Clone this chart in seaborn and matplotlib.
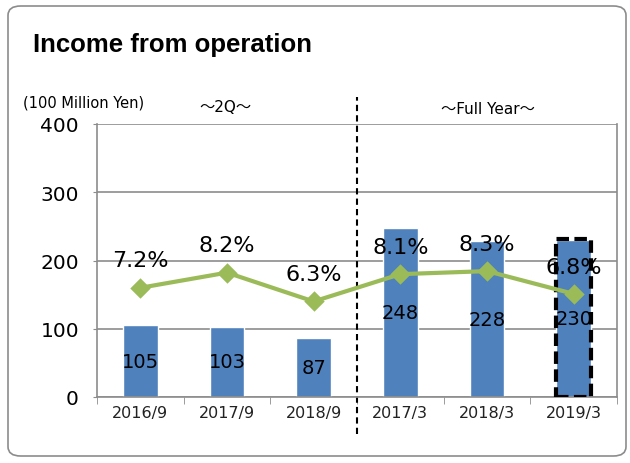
import seaborn as sns
import matplotlib.pyplot as plt
import pandas as pd
from matplotlib.patches import FancyBboxPatch, Rectangle

# chart data
periods = ['2016/9', '2017/9', '2018/9', '2017/3', '2018/3', '2019/3']
income = [105, 103, 87, 248, 228, 230]
margin = [7.2, 8.2, 6.3, 8.1, 8.3, 6.8]

df = pd.DataFrame({'Period': periods, 'Income': income, 'Margin': margin})

sns.set_style('white')
plt.rcParams['font.family'] = ['DejaVu Sans', 'Noto Sans CJK JP']
plt.rcParams['text.color'] = 'black'
plt.rcParams['ytick.color'] = 'black'

fig = plt.figure(figsize=(6.3, 4.64), dpi=100)

# rounded frame round the whole chart
frame = FancyBboxPatch((8 / 630, 7 / 464), 618 / 630, 450 / 464,
                       boxstyle='round,pad=0,rounding_size=0.02',
                       transform=fig.transFigure, fill=False,
                       edgecolor='#8c8c8c', linewidth=1.2)
fig.patches.append(frame)

fig.text(33 / 630, 1 - 45 / 464, 'Income from operation', fontsize=18.5,
         fontweight='bold', va='center', ha='left', family='Liberation Sans')

ax = fig.add_axes([97 / 630, 66 / 464, 520 / 630, 273 / 464])
sns.barplot(data=df, x='Period', y='Income', color='#4F81BD', width=0.4,
            saturation=1, ax=ax)
ax.set_ylim(0, 400)
ax.set_xlim(-0.5, 5.5)
ax.set_yticks([0, 100, 200, 300, 400])
ax.yaxis.grid(True, color='#8c8c8c', linewidth=1.2)
ax.set_axisbelow(True)
for s in ['left', 'bottom', 'right']:
    ax.spines[s].set_color('#8c8c8c')
    ax.spines[s].set_linewidth(1.2)
ax.spines['top'].set_visible(False)
ax.set_xlabel('')
ax.set_ylabel('')
ax.tick_params(axis='y', labelsize=14.5, length=3, color='#8c8c8c', pad=10,
               left=True, labelcolor='black')
ax.tick_params(axis='x', labelsize=11.5, length=0, pad=6, labelcolor='#222222')
# tick marks between categories
ax.set_xticks([i - 0.5 for i in range(7)], minor=True)
ax.tick_params(axis='x', which='minor', length=5, color='#8c8c8c',
               direction='out', bottom=True)

for i, v in enumerate(income):
    ax.text(i, v / 2, str(v), ha='center', va='center', fontsize=14)

# margin line on a hidden second axis
ax2 = ax.twinx()
sns.pointplot(data=df, x='Period', y='Margin', color='#9BBB59', markers='D',
              markersize=8, linewidth=3, ax=ax2)
ax2.set_ylim(0, 18)
ax2.set_xlim(-0.5, 5.5)
ax2.set_ylabel('')
ax2.set_yticks([])
for s in ax2.spines.values():
    s.set_visible(False)
for i, m in enumerate(margin):
    ax2.text(i, m + 1.8, f'{m}%', ha='center', va='center', fontsize=16)

# divider between 2Q and full year
ax.axvline(2.5, ymin=-0.135, ymax=1.1, color='black', linestyle=(0, (3, 2)),
           linewidth=1.5, clip_on=False)

# dashed box round the forecast bar
ax.add_patch(Rectangle((5 - 0.2, 0), 0.4, 232, fill=False, edgecolor='black',
                       linewidth=3, linestyle=(0, (3, 1.3)), zorder=5))

fig.text(23 / 630, 1 - 103 / 464, '(100 Million Yen)', fontsize=10.5,
         va='center', ha='left')
fig.text(225 / 630, 1 - 108 / 464, '～2Q～', fontsize=11, va='center', ha='center')
fig.text(488 / 630, 1 - 110 / 464, '～Full Year～', fontsize=11, va='center', ha='center')

fig.savefig('out.png', dpi=100)
